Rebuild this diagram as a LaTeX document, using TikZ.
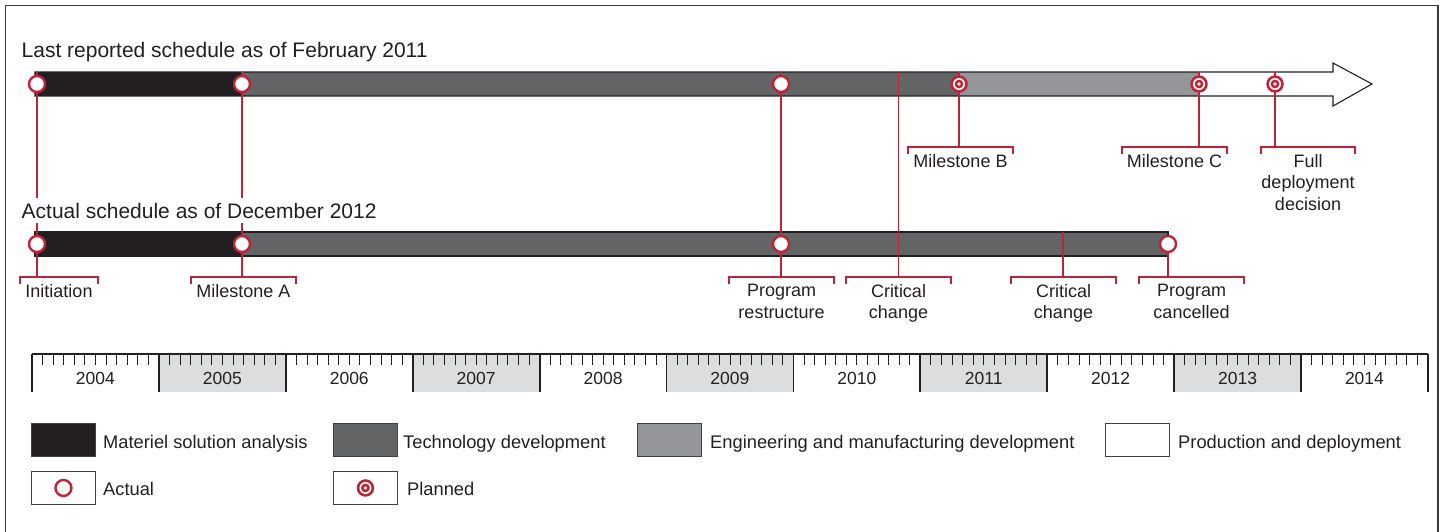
\documentclass[tikz,border=0pt]{standalone}
\usepackage{fontspec}
\setmainfont{Liberation Sans}
\usetikzlibrary{backgrounds}
\definecolor{gaored}{HTML}{BE2437}
\definecolor{ink}{HTML}{231F20}
\definecolor{techgray}{HTML}{636466}
\definecolor{emdgray}{HTML}{939598}
\definecolor{yeargray}{HTML}{DCDDDE}
\definecolor{framegray}{HTML}{3A3A3A}

\begin{document}
\begin{tikzpicture}[x=1pt, y=-1pt]
      \tikzstyle{actual}=[circle, draw=gaored, fill=white, line width=2.4pt, minimum size=16pt, inner sep=0pt]
      \tikzstyle{planned}=[circle, fill=gaored, minimum size=17.5pt, inner sep=0pt,
        path picture={
          \fill[white] (path picture bounding box.center) circle (6pt);
          \fill[gaored] (path picture bounding box.center) circle (4.4pt);
          \fill[white] (path picture bounding box.center) circle (1.8pt);
        }]
      \tikzstyle{tag}=[anchor=north, align=center, text=ink, inner xsep=0pt, inner ysep=7pt,
        minimum width=105pt, font=\fontsize{18}{21.6}\selectfont]
      \tikzstyle{bracket}=[draw=gaored, line width=2pt]
      \tikzstyle{link}=[draw=gaored, line width=1.3pt]
      \tikzstyle{title}=[anchor=base west, fill=white, inner xsep=2pt, inner ysep=5pt, text=ink,
        font=\fontsize{21}{25}\selectfont]
      \tikzstyle{year}=[anchor=base, inner sep=0pt, text=ink, font=\fontsize{17.5}{21}\selectfont]
      \tikzstyle{key}=[draw=ink!85, line width=0.9pt, anchor=north west, minimum width=64pt,
        minimum height=33pt, inner sep=0pt]
      \tikzstyle{keytext}=[anchor=base west, inner sep=0pt, text=ink, font=\fontsize{18.3}{22}\selectfont]

      \useasboundingbox (0,0) rectangle (1447,531);
      \draw[framegray, line width=1.3pt] (5.5,5.5) rectangle (1438,545);

      \coordinate (toptop) at (0,72);
      \coordinate (bottop) at (0,232);
      \coordinate (crit1) at (898.5,72);
      \coordinate (crit2) at (1063,232);

      \path (19.5,57) node[title] (tlast) {Last reported schedule as of February 2011};
      \path (19.5,218) node[title] (tactual) {Actual schedule as of December 2012};

      \path (37,84) node[actual] (init1) {};
      \path (242,84) node[actual] (msa1) {};
      \path (781,84) node[actual] (restr1) {};
      \path (959,84) node[planned] (msb) {};
      \path (1199,84) node[planned] (msc) {};
      \path (1275,84) node[planned] (fdd) {};

      \path (37,244) node[actual] (init2) {};
      \path (242,244) node[actual] (msa2) {};
      \path (781,244) node[actual] (restr2) {};
      \path (1168,244) node[actual] (cancel) {};

      \path (59,277) node[tag, minimum width=78pt] (linit) {Initiation};
      \path (243.5,277) node[tag] (lmsa) {Milestone A};
      \path (781.5,277) node[tag] (lrestr) {Program\\restructure};
      \path (898.5,277) node[tag] (lcrit1) {Critical\\change};
      \path (1063.5,277) node[tag] (lcrit2) {Critical\\change};
      \path (1191.5,277) node[tag] (lcancel) {Program\\cancelled};
      \path (960.5,147) node[tag] (lmsb) {Milestone B};
      \path (1174.5,147) node[tag] (lmsc) {Milestone C};
      \path (1308,147) node[tag, minimum width=90pt] (lfdd) {Full\\deployment\\decision};

      \foreach \l in {linit, lmsa, lrestr, lcrit1, lcrit2, lcancel, lmsb, lmsc, lfdd}
      {
        \draw[bracket] ([yshift=-7pt]\l.north west) |- (\l.north east) -- ++(0pt,-7pt);
      }

      \begin{scope}[on background layer]
        \fill[ink] (35,72) rectangle (242,96);
        \fill[techgray] (242,72) rectangle (959,96);
        \fill[emdgray] (959,72) rectangle (1199,96);
        \draw[ink, line width=1.1pt, line join=miter]
          (35,72) -- (1333,72) -- (1333,63) -- (1372,84) -- (1333,106) -- (1333,96) -- (35,96) -- cycle;

        \fill[ink] (35,232) rectangle (242,256);
        \fill[techgray] (242,232) rectangle (1168,256);
        \draw[ink, line width=1.1pt] (35,232) rectangle (1168,256);

        \draw[link]
          (init1 |- toptop) -- (init1 |- linit.north)
          (msa1 |- toptop) -- (msa1 |- lmsa.north)
          (restr1 |- toptop) -- (restr1 |- lrestr.north)
          (crit1) -- (crit1 |- lcrit1.north)
          (msb |- toptop) -- (msb |- lmsb.north)
          (msc |- toptop) -- (msc |- lmsc.north)
          (fdd |- toptop) -- (fdd |- lfdd.north)
          (crit2) -- (crit2 |- lcrit2.north)
          (cancel) -- (cancel |- lcancel.north);
      \end{scope}

      \foreach \k in {1, 3, 5, 7, 9}
      {
        \fill[yeargray] (32+\k*126.9,354) rectangle (32+\k*126.9+126.9,392);
      }
      \foreach \m in {1, ..., 131}
      {
        \draw[ink, line width=0.8pt] (32+\m*10.575,354) -- (32+\m*10.575,365);
      }
      \foreach \k in {0, ..., 11}
      {
        \draw[ink, line width=1.8pt] (32+\k*126.9,354) -- (32+\k*126.9,392);
      }
      \draw[ink, line width=1.5pt] (32,354) -- (1428,354);
      \foreach \y [count=\k from 0] in {2004, ..., 2014}
      {
        \path (32+\k*126.9+63.45,384) node[year] (y\y) {\y};
      }

      \path (31,423) node[key, fill=ink] (kmsa) {};
      \path (333,423) node[key, fill=techgray] (ktech) {};
      \path (637,423) node[key, fill=emdgray] (kemd) {};
      \path (1105,423) node[key, fill=white] (kprod) {};
      \path (31,471) node[key, fill=white] (kact) {};
      \path (333,471) node[key, fill=white] (kplan) {};
      \path (kact.center) node[actual] (sact) {};
      \path (kplan.center) node[planned] (splan) {};

      \path (103,448.7) node[keytext] (tmsa) {Materiel solution analysis};
      \path (403,448.7) node[keytext] (ttech) {Technology development};
      \path (710,448.7) node[keytext] (temd) {Engineering and manufacturing development};
      \path (1178,448.7) node[keytext] (tprod) {Production and deployment};
      \path (103,495) node[keytext] (tact) {Actual};
      \path (407,495) node[keytext] (tplan) {Planned};
    \end{tikzpicture}
\end{document}
